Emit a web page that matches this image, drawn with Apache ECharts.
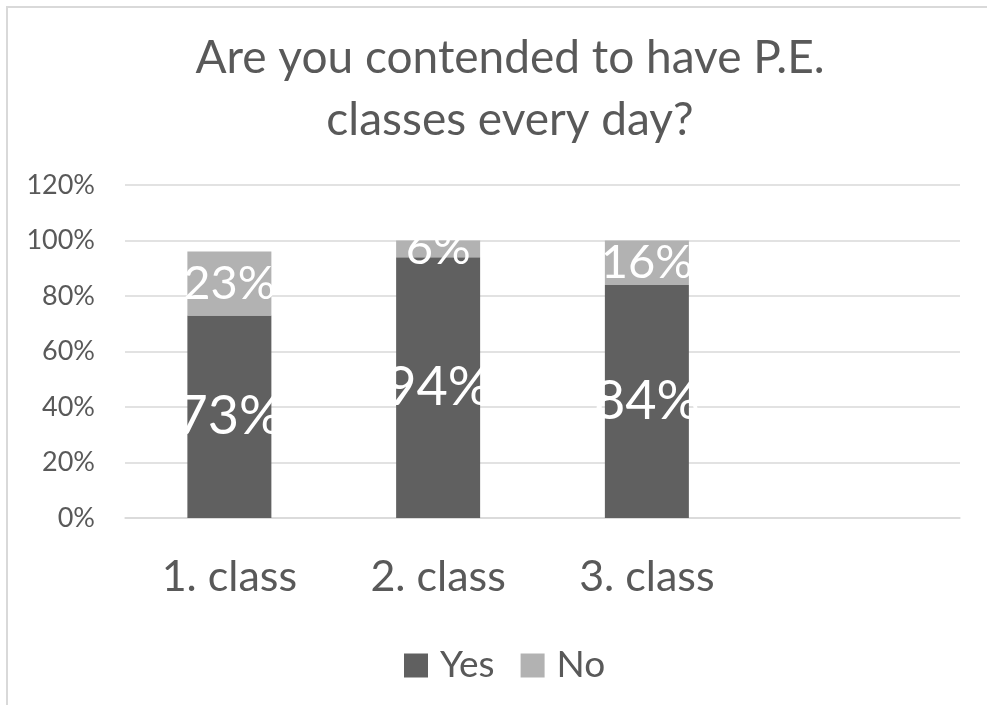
<!DOCTYPE html>
<html>
<head>
<meta charset="utf-8">
<script src="https://cdn.jsdelivr.net/npm/echarts@6/dist/echarts.min.js"></script>
<style>
  html, body { margin: 0; padding: 0; background: #fff; overflow: hidden; }
  #chart { width: 987px; height: 705px; }
</style>
</head>
<body>
<div id="chart"></div>
<script>
// chart data
var categories = ['1. class', '2. class', '3. class', ''];
var yesValues = [73, 94, 84, null];
var noValues = [23, 6, 16, null];
var titleText = 'Are you contended to have P.E.\nclasses every day?';

var fontName = 'Lato';
var textGray = '#595959';

var chart = echarts.init(document.getElementById('chart'));

chart.setOption({
	animation: false,
	textStyle: { fontFamily: fontName },
	// outer chart frame, only the top and left edges are in view
	graphic: [{
		type: 'polyline',
		shape: { points: [[7, 720], [7, 7], [1000, 7]] },
		style: { fill: 'none', stroke: '#d9d9d9', lineWidth: 2 },
		silent: true
	}],
	title: {
		text: titleText,
		left: 510,
		top: 27,
		padding: 0,
		textAlign: 'center',
		textStyle: {
			fontFamily: fontName,
			fontSize: 46,
			fontWeight: 'normal',
			color: textGray,
			lineHeight: 62
		}
	},
	legend: {
		data: ['Yes', 'No'],
		left: 404,
		top: 647,
		padding: 0,
		itemWidth: 24,
		itemHeight: 24,
		itemGap: 26,
		icon: 'rect',
		textStyle: {
			fontFamily: fontName,
			fontSize: 37,
			color: textGray,
			padding: [0, 0, 0, 7]
		}
	},
	grid: {
		left: 125,
		right: 27,
		top: 185,
		bottom: 187,
		containLabel: false
	},
	xAxis: {
		type: 'category',
		data: categories,
		axisLine: { show: true, lineStyle: { color: '#d9d9d9', width: 1.5 } },
		axisTick: { show: false },
		axisLabel: {
			margin: 38,
			fontFamily: fontName,
			fontSize: 43,
			color: textGray
		}
	},
	yAxis: {
		type: 'value',
		min: 0,
		max: 120,
		interval: 20,
		axisLine: { show: false },
		axisTick: { show: false },
		splitLine: { lineStyle: { color: '#d9d9d9', width: 1.5 } },
		axisLabel: {
			formatter: '{value}%',
			margin: 30,
			fontFamily: fontName,
			fontSize: 27,
			color: textGray
		}
	},
	series: [{
		name: 'Yes',
		type: 'bar',
		stack: 'total',
		barWidth: 84,
		data: yesValues,
		itemStyle: { color: '#606060' },
		label: {
			show: true,
			position: 'inside',
			formatter: '{c}%',
			fontFamily: fontName,
			fontSize: 54,
			color: '#ffffff'
		}
	}, {
		name: 'No',
		type: 'bar',
		stack: 'total',
		barWidth: 84,
		data: noValues,
		itemStyle: { color: '#b2b2b2' },
		label: {
			show: true,
			position: 'inside',
			formatter: '{c}%',
			fontFamily: fontName,
			fontSize: 47,
			color: '#ffffff'
		}
	}]
});
</script>
</body>
</html>
